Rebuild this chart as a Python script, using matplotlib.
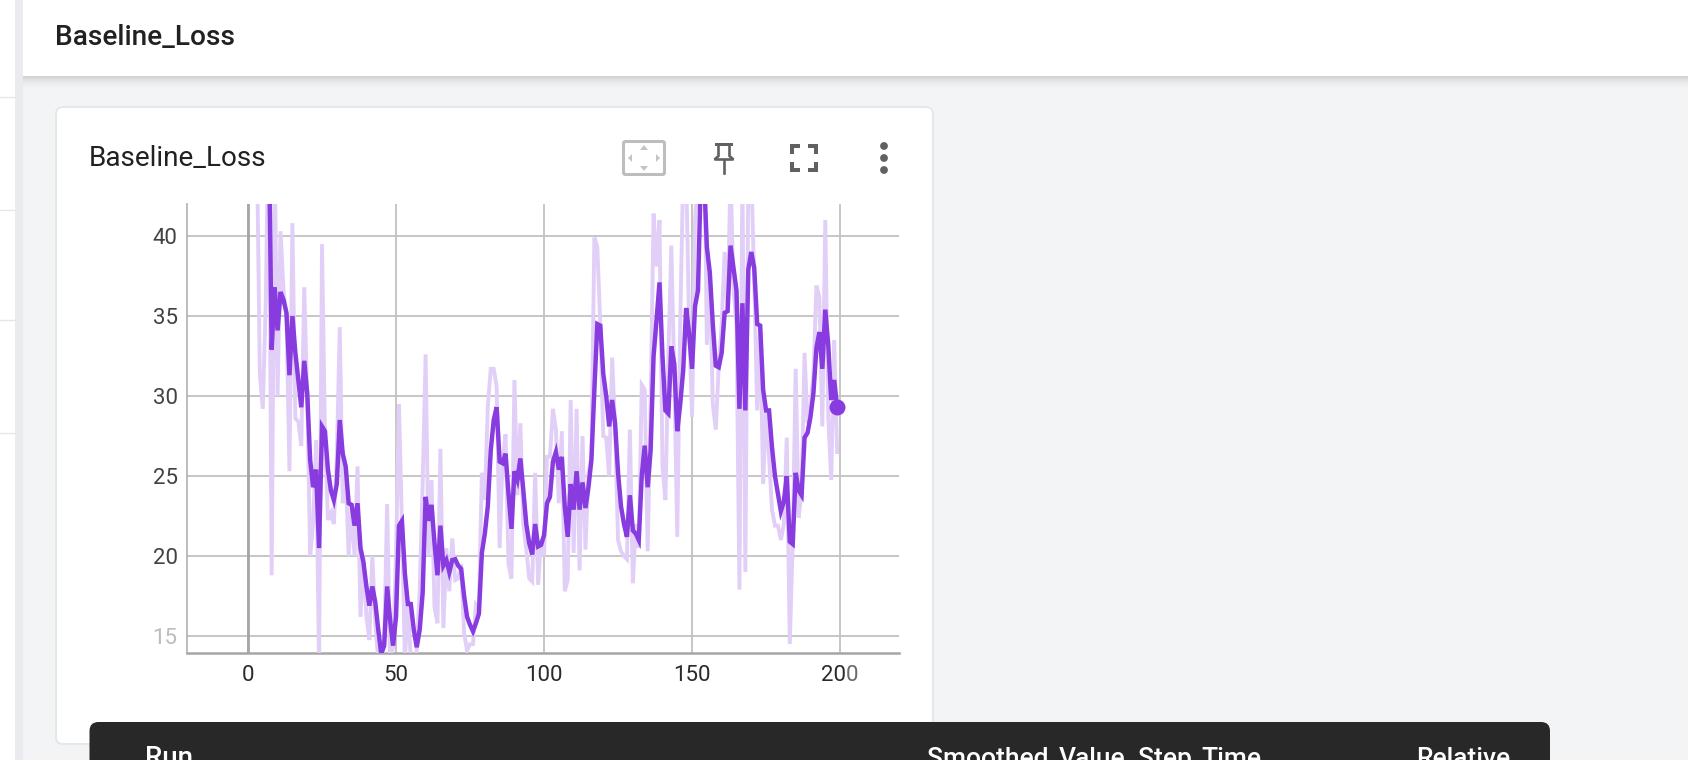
import matplotlib
matplotlib.use("Agg")
import matplotlib.pyplot as plt
from matplotlib.patches import FancyBboxPatch, Rectangle, Circle, Polygon

plt.rcParams['font.family'] = ['Roboto', 'DejaVu Sans']

TITLE = "Baseline_Loss"
X_TICKS = [0, 50, 100, 150, 200]
Y_TICKS = [15, 20, 25, 30, 35, 40]

# smoothed series, one value per step from step 0
smoothed = [
    62, 60, 58, 57, 56, 55, 52, 47,
    32.9, 36.8, 34.1, 36.5, 36, 35.2, 31.3, 35, 32.7, 31, 29.3, 32.2,
    30.2, 26, 24.3, 25.4, 20.5, 28.1, 27.8, 25.4, 24.1, 23.5,
    24.5, 28.5, 26.4, 25.6, 23.3, 23.2, 21.9, 23.3, 20.5, 19.6,
    18.1, 16.9, 18.1, 17.1, 15.4, 13.9, 14.4, 18.1, 16, 14.4,
    16.2, 21.9, 22.2, 18.9, 17, 17, 15.4, 14.3, 15.4, 17.7,
    23.7, 22.2, 23.2, 20.8, 18.8, 21.9, 19.4, 19.75, 19, 19.75,
    19.8, 19.4, 19.2, 17.5, 16.2, 15.7, 15.3, 15.8, 16.4, 20.2,
    21.4, 23.1, 26.6, 28.5, 29.3, 25.9, 25.8, 26.4, 23.9, 21.7,
    25.3, 24.75, 26.1, 24.1, 22, 20.8, 20.1, 22, 20.6, 20.7,
    21.3, 23.3, 23.7, 25.9, 26.5, 25.4, 26.2, 23.1, 21.2, 24.5,
    22.9, 25.3, 22.9, 24.6, 23, 24.3, 26, 30.4, 34.5, 34.4,
    31.4, 30, 28.1, 29.75, 28.3, 25.2, 23.1, 22, 21.2, 23.8,
    21.6, 21.4, 21, 25, 26.9, 24.3, 26.6, 32.5, 34.75, 37.1,
    32.5, 29.1, 28.9, 33.1, 32, 27.8, 29.5, 31.6, 35.5, 33.9,
    31.7, 35.6, 36.6, 44, 44, 39.3, 37.7, 34.5, 31.9, 31.8,
    32.7, 35.2, 35.3, 39.4, 38, 36.6, 29.2, 35.8, 29.1, 37.9,
    39, 38, 34.5, 34.4, 30.4, 29.1, 29.1, 26.8, 25, 23.9,
    22.8, 23.4, 25, 20.9, 20.75, 25.2, 24.1, 23.8, 27.4, 27.7,
    28.7, 30.2, 33, 34, 31.7, 35.4, 33.2, 29.75, 31, 29.3,
]

# raw series, one value per step from step 0
raw = [
    70, 66, 62, 46, 31.4, 29.2, 35.8, 48,
    18.8, 45, 30, 40.3, 36.6, 35, 25.3, 40.8, 28.6, 28.4, 26.9, 36.8,
    30, 20, 22, 27.25, 13, 39.5, 27.5, 22.25, 22.7, 22,
    26.2, 34.3, 23.3, 25.2, 20, 23, 20, 25.6, 16.2, 20,
    16.2, 14.75, 20, 15.8, 13.5, 13.5, 14.5, 23.25, 13.5, 14.3,
    20, 29.5, 22, 13.5, 17, 13.5, 13.5, 14.1, 17.9, 24.5,
    32.6, 20, 24.75, 16.8, 15.8, 26.7, 15.5, 20.5, 17.8, 21.1,
    18.5, 18.6, 19.5, 15.2, 14.1, 14.5, 14.5, 17, 16.8, 25.2,
    23.5, 29.3, 31.7, 31.7, 30.6, 20.5, 26, 27.6, 19.5, 18.6,
    31, 23.8, 28.3, 22, 20.4, 18.6, 18.4, 25.2, 18.2, 21,
    20, 26.2, 26.2, 29.2, 27.9, 23.3, 27.8, 17.8, 18.5, 29.75,
    20.2, 29.2, 19.1, 27.5, 20.4, 25.2, 26.2, 39.9, 39.3, 34.5,
    27.5, 27.4, 25, 32.4, 28, 21, 20.3, 20, 19.8, 27.9,
    18.3, 22, 20.5, 30.7, 30.4, 20.3, 29.5, 41.4, 38.1, 41,
    25.6, 23.5, 32.5, 39.4, 31.2, 21.2, 34.5, 44, 44, 34.5,
    28.7, 41, 44, 50, 48, 33.2, 37.9, 29.5, 27.9, 31.8,
    34.5, 39, 35.3, 44, 36.6, 34.5, 17.9, 44, 19, 44,
    44, 37.25, 29.1, 34.5, 24.5, 29.1, 26.2, 22.9, 21.9, 21.9,
    21, 22, 27.4, 14.5, 20.8, 31.7, 22.4, 24.1, 32.7, 28.3,
    29.3, 31.4, 36.9, 36.2, 28.1, 41, 28.7, 24.75, 33.5, 26.5,
]
steps = list(range(len(smoothed)))

W, H = 1688, 760
PAGE = '#f3f4f6'
fig = plt.figure(figsize=(W / 100, H / 100), dpi=100, facecolor=PAGE)

# page furniture, in pixel coordinates
bg = fig.add_axes([0, 0, 1, 1], zorder=0)
bg.set_xlim(0, W)
bg.set_ylim(H, 0)
bg.axis('off')

bg.add_patch(Rectangle((0, 0), 15, H, fc='white', ec='none'))
bg.add_patch(Rectangle((15, 0), 8, H, fc='#e9ebee', ec='none'))
for yy in (97, 210, 320, 433):
    bg.plot([0, 15], [yy, yy], color='#e6e6e6', lw=1)

for i, a in enumerate((0.14, 0.12, 0.10, 0.08, 0.065, 0.05, 0.04, 0.03, 0.022, 0.015, 0.01, 0.005)):
    bg.add_patch(Rectangle((23, 76 + i), W - 23, 1.0, fc='black', alpha=a, ec='none', lw=0))
bg.add_patch(Rectangle((23, 0), W - 23, 76, fc='white', ec='none'))
bg.text(55, 38, TITLE, fontsize=20.2, fontweight='medium', color='#212121', va='center', ha='left')

bg.add_patch(FancyBboxPatch((56, 107), 877, 637, boxstyle='round,pad=0,rounding_size=7',
                            fc='white', ec='#e6e7e9', lw=1.4))
bg.text(88.5, 158.5, TITLE, fontsize=20.1, color='#212121', va='center', ha='left')

# toolbar icons
bg.add_patch(FancyBboxPatch((623.5, 141.5), 41, 33, boxstyle='round,pad=0,rounding_size=2',
                            fc='white', ec='#bdbdbd', lw=2.2))
for pts in ([(640, 150), (648, 150), (644, 145)], [(640, 166), (648, 166), (644, 171)],
            [(632, 154), (632, 162), (628, 158)], [(656, 154), (656, 162), (660, 158)]):
    bg.add_patch(Polygon(pts, closed=True, fc='#c4c4c4', ec='none'))
ICON = '#616161'
bg.add_patch(Rectangle((715, 143), 18, 3, fc=ICON, ec='none'))
bg.plot([718.5, 718.5, 714.5, 733.5, 729.5, 729.5], [145, 156, 159.5, 159.5, 156, 145],
        color=ICON, lw=1.9, solid_joinstyle='miter')
bg.plot([724, 724], [160, 172.5], color=ICON, lw=1.9)
ARM, THICK = 10, 3.6
for x0, y0, sx, sy in ((790, 144, 1, 1), (818, 144, -1, 1), (790, 172, 1, -1), (818, 172, -1, -1)):
    bg.add_patch(Rectangle((min(x0, x0 + sx * ARM), min(y0, y0 + sy * THICK)), ARM, THICK, fc=ICON, ec='none'))
    bg.add_patch(Rectangle((min(x0, x0 + sx * THICK), min(y0, y0 + sy * ARM)), THICK, ARM, fc=ICON, ec='none'))
for yy in (146, 158, 170):
    bg.add_patch(Circle((884, yy), 3.9, fc=ICON, ec='none'))

# tooltip box and its header
bg.add_patch(FancyBboxPatch((89.5, 722), 1460.5, 60, boxstyle='round,pad=0,rounding_size=9',
                            fc='#282828', ec='none', zorder=8))
for label, xp, fs in (("Run", 145, 20), ("Smoothed", 927, 19), ("Value", 1059, 19), ("Step", 1138, 19),
                      ("Time", 1201, 19), ("Relative", 1416, 19)):
    bg.text(xp, 766, label, fontsize=fs, fontweight='medium', color='white',
            va='baseline', ha='left', zorder=9)

# chart
L, R, T, B = 187.3, 899.0, 204.0, 652.7
ax = fig.add_axes([L / W, 1 - B / H, (R - L) / W, (B - T) / H], zorder=2)
ax.patch.set_alpha(0)
ax.set_xlim(-20.5, 219.9)
ax.set_ylim(13.96, 42.0)
ax.set_xticks(X_TICKS)
ax.set_yticks(Y_TICKS)
ax.grid(True, color='#c2c2c2', lw=1.3)
ax.set_axisbelow(True)
ax.axvline(0, color='#a6a6a6', lw=2.0, zorder=1)
for s in ('top', 'right'):
    ax.spines[s].set_visible(False)
ax.spines['left'].set_color('#b0b0b0')
ax.spines['left'].set_linewidth(1.2)
ax.spines['bottom'].set_color('#a6a6a6')
ax.spines['bottom'].set_linewidth(1.8)
ax.tick_params(axis='x', length=0, pad=8.5, labelsize=16, labelcolor='#2b2b2b')
ax.tick_params(axis='y', length=0, pad=7, labelsize=16, labelcolor='#424242')
ax.get_yticklabels()[0].set_color('#bcbcbc')

ax.plot(steps, raw, color='#e2cff8', lw=2.8, solid_joinstyle='miter', zorder=3)
ax.plot(steps, smoothed, color='#883ce0', lw=3.2, solid_joinstyle='miter', zorder=4)
ax.plot(steps[-1], smoothed[-1], 'o', color='#883ce0', ms=11.5, mec='none', zorder=5)

# the last digit of the final x label fades out in the reference
top = fig.add_axes([0, 0, 1, 1], zorder=3)
top.set_xlim(0, W)
top.set_ylim(H, 0)
top.axis('off')
top.add_patch(Rectangle((846, 662), 13, 26, fc='white', alpha=0.3, ec='none'))

fig.savefig('out.png', dpi=100, facecolor=PAGE)
